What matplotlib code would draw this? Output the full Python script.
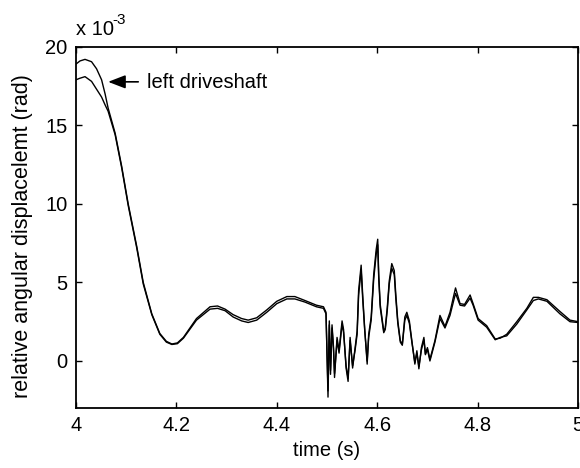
import matplotlib
matplotlib.use('Agg')
import matplotlib.pyplot as plt

plt.rcParams['font.family'] = ['Liberation Sans', 'DejaVu Sans']

# time axis shared by both traces (s)
t = [4.000, 4.008, 4.018, 4.031, 4.041, 4.051, 4.058, 4.064, 4.078, 4.091,
     4.104, 4.121, 4.134, 4.151, 4.167, 4.180, 4.191, 4.202, 4.214, 4.240,
     4.267, 4.282, 4.297, 4.313, 4.330, 4.343, 4.360, 4.380, 4.400, 4.420,
     4.436, 4.456, 4.479, 4.493, 4.498,
     4.502, 4.5046, 4.507, 4.510, 4.513, 4.515, 4.520, 4.524, 4.530, 4.533,
     4.538, 4.542, 4.546, 4.551, 4.556, 4.560, 4.563, 4.568, 4.571, 4.575,
     4.580, 4.583, 4.588, 4.593, 4.598, 4.601, 4.603, 4.606, 4.613, 4.616,
     4.620, 4.624, 4.629, 4.634, 4.637, 4.641, 4.646, 4.650, 4.655, 4.659,
     4.664, 4.669, 4.675, 4.679, 4.683, 4.688, 4.693, 4.696, 4.700,
     4.705, 4.715, 4.725, 4.735, 4.745, 4.752, 4.756, 4.765, 4.774, 4.785,
     4.791, 4.801, 4.818, 4.835, 4.845, 4.858, 4.878, 4.898, 4.911, 4.921,
     4.938, 4.964, 4.984, 5.000]

# left driveshaft (upper trace at start), x 10^-3 rad
left = [18.9, 19.1, 19.2, 19.05, 18.6, 17.9, 17.0, 16.1, 14.5, 12.4,
        10.0, 7.3, 5.0, 3.0, 1.75, 1.25, 1.08, 1.15, 1.5, 2.7,
        3.45, 3.5, 3.3, 2.95, 2.7, 2.6, 2.75, 3.25, 3.8, 4.1,
        4.1, 3.85, 3.55, 3.45, 3.1,
        -2.3, 2.55, -0.85, 2.3, 0.85, -1.05, 1.5, 0.65, 2.55, 2.0,
        -0.45, -1.3, 1.5, -0.45, 0.85, 1.9, 4.5, 6.1, 4.25, 2.1,
        -0.2, 1.7, 2.8, 5.5, 7.1, 7.75, 5.5, 3.6, 1.9, 2.1,
        3.4, 5.1, 6.2, 5.75, 4.25, 2.55, 1.3, 1.05, 2.8, 3.1,
        2.55, 1.3, -0.2, 0.65, -0.5, 0.85, 1.5, 0.45, 0.85,
        0.1, 1.3, 2.9, 2.2, 3.1, 4.1, 4.65, 3.65, 3.6, 4.2,
        3.65, 2.7, 2.25, 1.4, 1.45, 1.7, 2.5, 3.35, 4.05, 4.05,
        3.9, 3.15, 2.6, 2.5]

# second trace (lower at start)
right = [17.9, 18.0, 18.1, 17.8, 17.3, 16.8, 16.3, 15.9, 14.4, 12.3,
         9.9, 7.2, 4.9, 2.95, 1.7, 1.2, 1.05, 1.1, 1.45, 2.6,
         3.3, 3.35, 3.2, 2.8, 2.55, 2.45, 2.6, 3.1, 3.65, 3.95,
         3.95, 3.75, 3.45, 3.35, 3.0,
         -1.9, 2.3, -0.6, 2.1, 0.7, -0.8, 1.3, 0.5, 2.35, 1.8,
         -0.3, -1.1, 1.3, -0.3, 0.7, 1.7, 4.2, 5.8, 4.0, 2.0,
         0.0, 1.5, 2.6, 5.2, 6.8, 7.4, 5.3, 3.4, 1.8, 2.0,
         3.2, 4.9, 5.9, 5.5, 4.0, 2.4, 1.2, 1.0, 2.6, 2.9,
         2.4, 1.2, -0.1, 0.5, -0.35, 0.7, 1.35, 0.4, 0.75,
         0.0, 1.2, 2.7, 2.1, 2.9, 3.8, 4.3, 3.55, 3.5, 4.0,
         3.55, 2.6, 2.15, 1.35, 1.5, 1.6, 2.35, 3.25, 3.85, 3.95,
         3.8, 3.0, 2.5, 2.45]

xticks = [4, 4.2, 4.4, 4.6, 4.8, 5]
xticklabels = ['4', '4.2', '4.4', '4.6', '4.8', '5']
yticks = [0, 5, 10, 15, 20]

fig = plt.figure(figsize=(5.8, 4.68), dpi=100)
ax = fig.add_axes([0.131, 0.128, 0.8656, 0.772])

ax.plot(t, left, color='black', linewidth=1.0)
ax.plot(t, right, color='black', linewidth=1.0)

ax.set_xlim(4, 5)
ax.set_ylim(-3, 20)
ax.set_xticks(xticks)
ax.set_xticklabels(xticklabels)
ax.set_yticks(yticks)
ax.tick_params(direction='in', length=4.5, width=1.0, labelsize=14.5,
               top=True, right=True, pad=6)
for s in ax.spines.values():
    s.set_linewidth(1.3)

ax.set_xlabel('time (s)', fontsize=14.5, labelpad=4)
ax.set_ylabel('relative angular displacelemt (rad)', fontsize=15.5)
ax.yaxis.set_label_coords(-0.086, 0.476)

# MATLAB style exponent above the axis
ax.text(0.0, 1.047, 'x 10', transform=ax.transAxes, fontsize=14.5,
        ha='left', va='center')
ax.text(0.073, 1.073, '-3', transform=ax.transAxes, fontsize=11,
        ha='left', va='center')

ax.annotate('', xy=(4.064, 17.77), xytext=(4.124, 17.77),
            arrowprops=dict(arrowstyle='-|>,head_length=0.7,head_width=0.27',
                            color='black', lw=1.2, mutation_scale=15,
                            shrinkA=0, shrinkB=0))
ax.text(4.141, 17.75, 'left driveshaft', fontsize=14.5, ha='left', va='center')

fig.savefig('out.png', dpi=100)
